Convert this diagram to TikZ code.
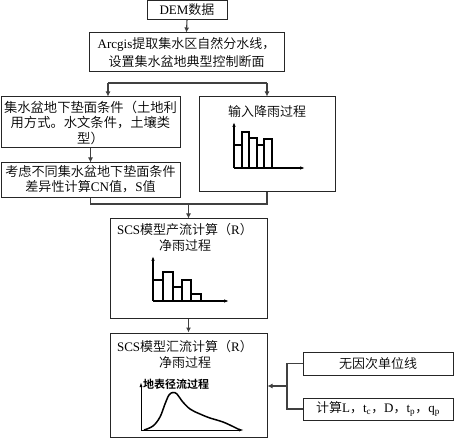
\documentclass[tikz,border=0pt]{standalone}
\usepackage{fontspec}
\setmainfont{Liberation Serif}
\newfontfamily\cjk[UprightFont=* DemiLight, BoldFont=* Bold]{Noto Sans CJK SC}
\usetikzlibrary{arrows.meta}
\newcommand\zh[1]{{\cjk #1}}
\tikzset{
  box/.style={draw=black!85, line width=1pt, inner sep=0pt, fill=white},
  conn/.style={draw=black!75, line width=1.1pt},
  arr/.style={conn, -{Latex[length=5pt,width=5pt]}},
  axis/.style={line width=1.3pt, -{Latex[length=5pt,width=3.5pt]}},
  bar/.style={line width=1.5pt},
  txt/.style={align=center, inner sep=0pt, font=\fontsize{13}{15.5}\selectfont},
}
\begin{document}
\begin{tikzpicture}[x=1pt,y=-1pt]
\useasboundingbox (0,0) rectangle (455,438);
% boxes
\node[box, minimum width=80, minimum height=18.5] (dem) at (187,9.8) {};
\node[txt] (demt) at (dem) {DEM\zh{数据}};
\node[box, minimum width=195, minimum height=39] (arc) at (186.5,52.5) {};
\node[txt, font=\fontsize{13}{18}\selectfont] (arct) at (arc) {Arcgis\zh{提取集水区自然分水线，}\\\zh{设置集水盆地典型控制断面}};
\node[box, minimum width=179, minimum height=51] (land) at (90.5,122.5) {};
\node[txt, font=\fontsize{13.3}{15.5}\selectfont] (landt) at (land) {\zh{集水盆地下垫面条件（土地利}\\\zh{用方式。水文条件，土壤类}\\\zh{型）}};
\node[box, minimum width=179, minimum height=35] (cn) at (90.5,180.5) {};
\node[txt, font=\fontsize{13.1}{15}\selectfont] (cnt) at (90.5,179.5) {\zh{考虑不同集水盆地下垫面条件}\\\zh{差异性计算}CN\zh{值，}S\zh{值}};
\node[box, minimum width=136, minimum height=95] (rain) at (267,144.5) {};
\node[txt] (raint) at (267,112) {\zh{输入降雨过程}};
\node[box, minimum width=157, minimum height=99] (scs1) at (188.5,268.5) {};
\node[txt, font=\fontsize{13}{16}\selectfont] (scs1t) at (185,237) {SCS\zh{模型产流计算（}R\zh{）}\\\zh{净雨过程}};
\node[box, minimum width=157, minimum height=104] (scs2) at (188.5,385) {};
\node[txt, font=\fontsize{13}{16}\selectfont] (scs2t) at (185,354) {SCS\zh{模型汇流计算（}R\zh{）}\\\zh{净雨过程}};
\node[box, minimum width=150, minimum height=23] (uh) at (378,363.5) {};
\node[txt] (uht) at (uh) {\zh{无因次单位线}};
\node[box, minimum width=150, minimum height=22] (calc) at (378,409) {};
\node[txt] (calct) at (calc) {\zh{计算}L\zh{，}t\textsubscript{c}\zh{，}D\zh{，}t\textsubscript{p}\zh{，}q\textsubscript{p}};
% connectors
\draw[arr] (dem.south) -- (arc.north);
\coordinate (bl) at (108,83);
\coordinate (br) at (267,83);
\draw[conn] (bl) -- (br);
\draw[arr] (bl) -- (bl |- land.north);
\draw[arr] (br) -- (rain.north);
\draw[arr] (land.south) -- (cn.north);
\coordinate (ml) at (90.5,204);
\coordinate (mr) at (267,204);
\coordinate (mm) at (188.5,204);
\draw[conn] (cn.south) -- (ml) -- (mr) -- (rain.south);
\draw[arr] (mm) -- (scs1.north);
\draw[arr] (scs1.south) -- (scs2.north);
\coordinate (ba) at (287,363.5);
\coordinate (bb) at (287,409);
\coordinate (bm) at (287,386);
\draw[conn] (uh.west) -- (ba) -- (bb) -- (calc.west);
\draw[arr] (bm) -- (bm -| scs2.east);
% rain chart
\draw[axis] (234,168) -- (234,122);
\draw[axis] (234,168) -- (305,168);
\draw[bar] (234,168) -- (234,145) -- (242,145) -- (242,168);
\draw[bar] (242,168) -- (242,132) -- (249,132) -- (249,168);
\draw[bar] (249,168) -- (249,138) -- (257,138) -- (257,168);
\draw[bar] (257,168) -- (257,145) -- (264,145) -- (264,168);
\draw[bar] (264,168) -- (264,139) -- (272,139) -- (272,168);
% net rain chart
\draw[axis] (153,301) -- (153,256);
\draw[axis] (153,301) -- (229,301);
\draw[bar,line width=1.8pt] (153,301) -- (153,280) -- (163,280) -- (163,301);
\draw[bar,line width=1.8pt] (163,301) -- (163,272) -- (173,272) -- (173,301);
\draw[bar,line width=1.8pt] (173,301) -- (173,287) -- (182,287) -- (182,301);
\draw[bar,line width=1.8pt] (182,301) -- (182,280) -- (191,280) -- (191,301);
\draw[bar,line width=1.8pt] (191,301) -- (191,294) -- (201,294) -- (201,301);
% runoff chart
\draw[line width=0.9pt, -{Latex[length=5pt,width=3pt]}] (141,430) -- (141,382);
\draw[line width=0.9pt, -{Latex[length=5pt,width=3pt]}] (141,430) -- (244,430);
\node[anchor=west, inner sep=0pt, font=\fontsize{11}{11}\selectfont\cjk\bfseries] (rl) at (143,384) {地表径流过程};
\draw[line width=1.5pt] plot[smooth, tension=0.6] coordinates {(144,430) (153,426) (160,417) (165,404) (169,395) (173,392.5) (177,394) (182,401) (190,409) (200,414) (210,418) (223,422) (234,427) (240,430)};
\end{tikzpicture}
\end{document}
